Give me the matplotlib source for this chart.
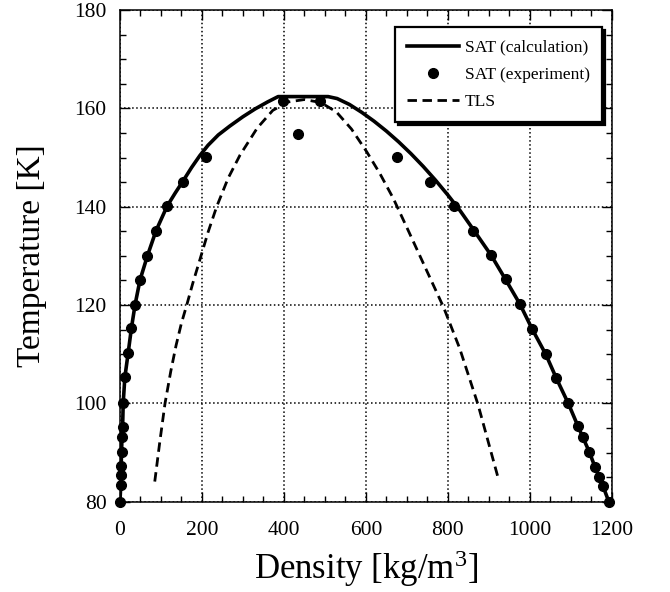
import numpy as np
import matplotlib
matplotlib.use("Agg")
import matplotlib.pyplot as plt
from matplotlib.ticker import MultipleLocator

plt.rcParams['font.family'] = ['Liberation Serif', 'DejaVu Serif']
plt.rcParams['mathtext.fontset'] = 'custom'
plt.rcParams['mathtext.rm'] = 'Liberation Serif'
plt.rcParams['mathtext.default'] = 'regular'

# SAT (calculation) line, density [kg/m3] vs temperature [K]
calc_rho = [0, 2, 2.5, 3, 4, 5, 6.5, 8, 12, 20, 28, 37, 49, 67, 88, 115, 135,
            153, 175, 195, 215, 240, 268, 300, 330, 360, 386, 508, 530, 560,
            590, 620, 650, 680, 710, 740, 770, 800, 830, 862, 906, 941, 976,
            1006, 1039, 1065, 1094, 1118, 1129, 1145, 1159, 1169, 1179, 1193]
calc_T = [80, 83.3, 85.4, 87.3, 90.2, 93.2, 95.1, 100.1, 105.3, 110.2, 115.3,
          120.1, 125.1, 130, 135.1, 140.1, 142.8, 145.1, 148, 150.4, 152.5,
          154.6, 156.4, 158.3, 159.9, 161.3, 162.4, 162.4, 162, 160.8, 159.2,
          157.4, 155.4, 153.2, 150.8, 148.2, 145.4, 142.4, 139.2, 135.4, 130.1,
          125.2, 120.2, 115.1, 110, 105.1, 100, 95.3, 93.2, 90.2, 87.1, 85.1,
          83.1, 80]

# SAT (experiment) points
exp_rho = [0, 2, 2.5, 3, 4, 5, 6.5, 8, 12, 20, 28, 37, 49, 67, 88, 115, 153,
           211, 398, 435, 488, 675, 756, 815, 862, 905, 941, 976, 1006, 1039,
           1065, 1094, 1118, 1129, 1145, 1159, 1169, 1179, 1193]
exp_T = [80, 83.3, 85.4, 87.3, 90.2, 93.2, 95.1, 100.1, 105.3, 110.2, 115.3,
         120.1, 125.1, 130, 135.1, 140.1, 145.1, 150.2, 161.6, 154.7, 161.6,
         150.2, 145.1, 140.1, 135.1, 130.1, 125.2, 120.2, 115.1, 110, 105.1,
         100, 95.3, 93.2, 90.2, 87.1, 85.1, 83.1, 80]

# TLS line
tls_rho = [85, 97, 110, 124, 137, 150, 163, 178, 195, 215, 236, 264, 293, 335,
           373, 410, 450, 490, 528, 565, 602, 634, 667, 700, 748, 790, 829,
           874, 923]
tls_T = [84.1, 92, 100, 106.5, 111.8, 116.3, 120, 124.5, 129.2, 134.8, 140,
         145.8, 150.5, 156, 159.6, 161.3, 161.8, 161.2, 159.3, 155.8, 151.2,
         146.8, 141.7, 135.8, 127.1, 119.5, 111.2, 99.7, 84.8]

fig = plt.figure(figsize=(6.7, 5.92), dpi=100)
ax = fig.add_axes([0.179, 0.1525, 0.734, 0.8305])

ax.plot(calc_rho, calc_T, color='black', lw=2.6, label='SAT (calculation)', zorder=3)
ax.plot(exp_rho, exp_T, 'o', color='black', ms=7, label='SAT (experiment)',
        zorder=4, clip_on=False)
ax.plot(tls_rho, tls_T, color='black', lw=2.0, dashes=(3.4, 2.0), label='TLS', zorder=3)

ax.set_xlim(0, 1200)
ax.set_ylim(80, 180)
ax.xaxis.set_major_locator(MultipleLocator(200))
ax.xaxis.set_minor_locator(MultipleLocator(50))
ax.yaxis.set_major_locator(MultipleLocator(20))
ax.yaxis.set_minor_locator(MultipleLocator(5))
ax.tick_params(which='both', direction='in', top=True, right=True, labelsize=15.5, width=1)
ax.tick_params(which='major', length=7)
ax.tick_params(which='minor', length=4)
ax.tick_params(axis='x', which='major', pad=14)
ax.tick_params(axis='y', which='major', pad=9.5)
for s in ax.spines.values():
    s.set_linewidth(1.1)
ax.grid(True, which='major', color='black', linestyle=':', lw=1.1)

ax.set_xlabel('Density [kg/m$^3$]', fontsize=25, labelpad=6)
ax.set_ylabel('Temperature [K]', fontsize=24, labelpad=20)

leg = ax.legend(loc='upper right', bbox_to_anchor=(0.98, 0.965), fontsize=12.6,
                fancybox=False, framealpha=1, edgecolor='black', handlelength=3.0,
                labelspacing=0.62, borderpad=0.7, handletextpad=0.3,
                borderaxespad=0,
                shadow={'color': 'black', 'alpha': 1, 'ox': 2.2, 'oy': -2.2})
leg.get_frame().set_linewidth(1.6)

fig.savefig('out.png', dpi=100)
